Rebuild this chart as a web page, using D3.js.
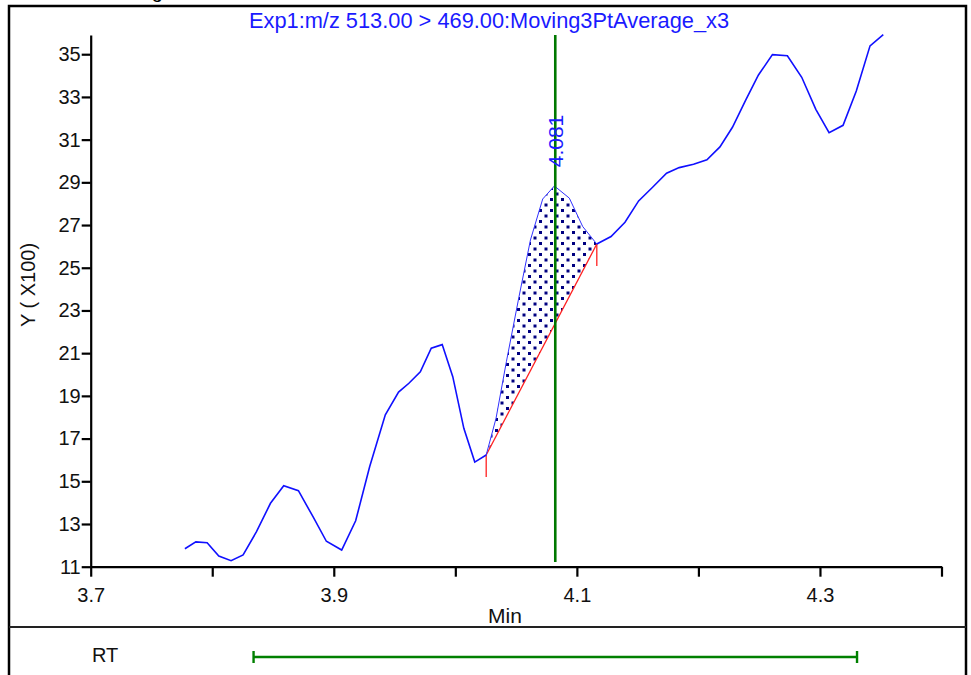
<!DOCTYPE html>
<html>
<head>
<meta charset="utf-8">
<script src="https://cdn.jsdelivr.net/npm/d3@7"></script>
<style>
  html, body { margin: 0; padding: 0; background: #fff; }
  svg { display: block; font-family: "Liberation Sans", Arial, sans-serif; }
</style>
</head>
<body>
<svg id="chart" width="971" height="675"></svg>
<script>
// ---- data ----
const titleText = "Exp1:m/z 513.00 > 469.00:Moving3PtAverage_x3";
const times = [3.7775, 3.7865, 3.7958, 3.8054, 3.8155, 3.8254, 3.8364, 3.8479, 3.8588, 3.8709,
  3.8829, 3.8939, 3.9065, 3.9180, 3.9295, 3.9424, 3.9533, 3.9618, 3.9712, 3.9802,
  3.9892, 3.9979, 4.0070, 4.0160, 4.0254, 4.0335, 4.0420, 4.0522, 4.0618, 4.0719,
  4.0815, 4.0938, 4.1048, 4.1164, 4.1281, 4.1396, 4.1508, 4.1623, 4.1738, 4.1842,
  4.1960, 4.2070, 4.2177, 4.2280, 4.2390, 4.2494, 4.2609, 4.2732, 4.2850, 4.2966,
  4.3075, 4.3190, 4.3299, 4.3412, 4.3521];
const intensities = [11.84, 12.16, 12.12, 11.50, 11.28, 11.55, 12.64, 13.97, 14.79, 14.56,
  13.34, 12.19, 11.78, 13.15, 15.68, 18.11, 19.18, 19.59, 20.13, 21.23,
  21.40, 19.90, 17.48, 15.90, 16.23, 17.95, 20.60, 23.59, 26.30, 28.22,
  28.83, 28.26, 26.93, 26.11, 26.46, 27.13, 28.13, 28.77, 29.43, 29.69,
  29.85, 30.06, 30.66, 31.58, 32.86, 34.03, 34.98, 34.93, 33.92, 32.42,
  31.33, 31.67, 33.28, 35.39, 35.92];
const peakStartIndex = 24;
const peakEndIndex = 33;
const apexRT = 4.081;
const apexLabel = "4.081";
const rtBar = [3.834, 4.3305];
const xTicks = [3.7, 3.8, 3.9, 4.0, 4.1, 4.2, 4.3, 4.4];
const xTickLabels = ["3.7", "", "3.9", "", "4.1", "", "4.3", ""];
const yTicks = [11, 13, 15, 17, 19, 21, 23, 25, 27, 29, 31, 33, 35];
const xDomain = [3.7, 4.4];
const yDomain = [11, 35.9];
const xLabel = "Min";
const yLabel = "Y ( X100)";
const rtLabel = "RT";
const topText = "Smoothing";

// ---- drawing ----
const svg = d3.select("#chart");
const x = d3.scaleLinear().domain(xDomain).range([90.7, 941.5]);
const y = d3.scaleLinear().domain(yDomain).range([566.7, 35]);

const pts = times.map((t, i) => ({ t, v: intensities[i] }));

// frame
svg.append("text").attr("x", 163).attr("y", -1.8).attr("text-anchor", "end")
  .attr("font-size", 20).attr("fill", "#000").text(topText);
svg.append("rect").attr("x", 9).attr("y", 6).attr("width", 957).attr("height", 700)
  .attr("fill", "none").attr("stroke", "#000").attr("stroke-width", 2.5);
svg.append("line").attr("x1", 9).attr("x2", 966).attr("y1", 627).attr("y2", 627)
  .attr("stroke", "#222").attr("stroke-width", 2);

// pattern
const defs = svg.append("defs");
const pat = defs.append("pattern").attr("id", "dots").attr("patternUnits", "userSpaceOnUse")
  .attr("width", 11).attr("height", 11);
pat.append("rect").attr("width", 11).attr("height", 11).attr("fill", "#fff");
pat.append("rect").attr("x", 0).attr("y", 0).attr("width", 3).attr("height", 3).attr("fill", "#000080");
pat.append("rect").attr("x", 5.5).attr("y", 5.5).attr("width", 3).attr("height", 3).attr("fill", "#000080");

// title
svg.append("text").attr("x", 489).attr("y", 28).attr("text-anchor", "middle")
  .attr("font-size", 21.8).attr("fill", "#1a1aff").text(titleText);

// axes
const xAxis = d3.axisBottom(x).tickValues(xTicks).tickSize(10).tickSizeOuter(0).tickPadding(11)
  .tickFormat((d, i) => xTickLabels[i]);
const gx = svg.append("g").attr("transform", `translate(0,${y(11)})`).call(xAxis);
gx.select(".domain").attr("stroke-width", 2.2).attr("stroke", "#000");
gx.selectAll(".tick line").attr("stroke-width", 2.2).attr("stroke", "#000");
gx.selectAll(".tick text").attr("font-size", 20).attr("fill", "#111").attr("font-family", "Liberation Sans, Arial, sans-serif");

const yAxis = d3.axisLeft(y).tickValues(yTicks).tickSize(9).tickSizeOuter(0).tickPadding(1)
  .tickFormat(d3.format("d"));
const gy = svg.append("g").attr("transform", `translate(${x(3.7)},0)`).call(yAxis);
gy.select(".domain").attr("stroke-width", 2.2).attr("stroke", "#000");
gy.selectAll(".tick line").attr("stroke-width", 2.2).attr("stroke", "#000");
gy.selectAll(".tick text").attr("font-size", 20).attr("fill", "#111").attr("font-family", "Liberation Sans, Arial, sans-serif");

svg.append("text").attr("x", 505).attr("y", 623).attr("text-anchor", "middle")
  .attr("font-size", 21).attr("fill", "#111").text(xLabel);
svg.append("text").attr("transform", "translate(35,285) rotate(-90)").attr("text-anchor", "middle")
  .attr("font-size", 20).attr("fill", "#111").text(yLabel);

// peak area
const peakPts = pts.slice(peakStartIndex, peakEndIndex + 1);
const p0 = pts[peakStartIndex], p1 = pts[peakEndIndex];
const base = t => p0.v + (p1.v - p0.v) * (t - p0.t) / (p1.t - p0.t);
const area = d3.area().x(d => x(d.t)).y0(d => y(base(d.t))).y1(d => y(d.v));
svg.append("path").datum(peakPts).attr("d", area).attr("fill", "url(#dots)").attr("stroke", "none");

// baseline (red)
svg.append("line").attr("x1", x(p0.t)).attr("y1", y(p0.v)).attr("x2", x(p1.t)).attr("y2", y(p1.v))
  .attr("stroke", "#ff2020").attr("stroke-width", 1.3);
[p0, p1].forEach(p => {
  svg.append("line").attr("x1", x(p.t)).attr("x2", x(p.t)).attr("y1", y(p.v)).attr("y2", y(p.v) + 22)
    .attr("stroke", "#ff2020").attr("stroke-width", 1.3);
});

// trace
const line = d3.line().x(d => x(d.t)).y(d => y(d.v));
svg.append("path").datum(pts.slice(0, peakStartIndex + 1)).attr("d", line)
  .attr("fill", "none").attr("stroke", "#1010ff").attr("stroke-width", 1.6);
svg.append("path").datum(peakPts).attr("d", line)
  .attr("fill", "none").attr("stroke", "#3030ff").attr("stroke-width", 1);
svg.append("path").datum(pts.slice(peakEndIndex)).attr("d", line)
  .attr("fill", "none").attr("stroke", "#1010ff").attr("stroke-width", 1.6);

// apex line
svg.append("line").attr("x1", x(apexRT) + 1.5).attr("x2", x(apexRT) + 1.5).attr("y1", 35).attr("y2", 562)
  .attr("stroke", "#007800").attr("stroke-width", 2.6);
svg.append("text").attr("transform", `translate(${x(apexRT) + 9},141) rotate(-90)`)
  .attr("text-anchor", "middle").attr("font-size", 21).attr("fill", "#1a1aff").text(apexLabel);

// RT bar
const rtY = 657;
svg.append("text").attr("x", 92).attr("y", 662).attr("font-size", 20).attr("fill", "#111").text(rtLabel);
svg.append("line").attr("x1", x(rtBar[0])).attr("x2", x(rtBar[1])).attr("y1", rtY).attr("y2", rtY)
  .attr("stroke", "#008000").attr("stroke-width", 2.4);
rtBar.forEach(t => {
  svg.append("line").attr("x1", x(t)).attr("x2", x(t)).attr("y1", rtY - 6).attr("y2", rtY + 6)
    .attr("stroke", "#008000").attr("stroke-width", 2.4);
});
</script>
</body>
</html>
